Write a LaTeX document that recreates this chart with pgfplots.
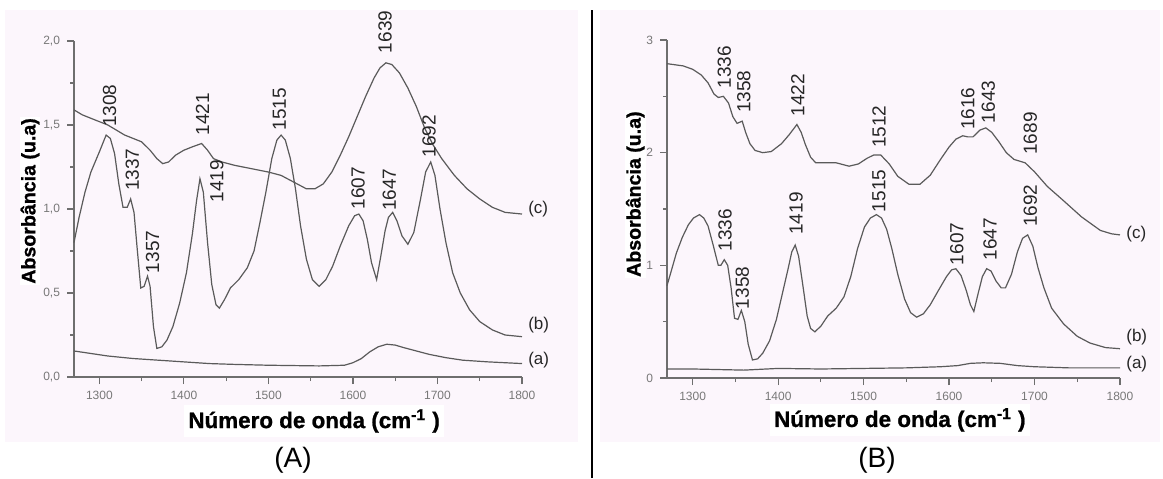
\documentclass[border=0pt]{standalone}
\usepackage{pgfplots}
\pgfplotsset{compat=1.18}
\usepackage{fontspec}
\setmainfont{Liberation Sans}
\newfontfamily\heavy[FakeBold=1]{Liberation Sans Bold}

\definecolor{bgpink}{RGB}{252,246,252}
\definecolor{curve}{RGB}{90,90,90}
\definecolor{axisgray}{RGB}{110,110,110}
\definecolor{ticklbl}{RGB}{120,120,120}

\tikzset{
  pk/.style={rotate=90, anchor=west, font=\fontsize{9.5}{11}\selectfont, inner sep=0.5pt, text=black!85},
  sl/.style={anchor=west, font=\fontsize{8.5}{10}\selectfont, inner sep=0pt, text=black!85},
  spec/.style={curve, line width=0.6pt, mark=none},
}

\pgfplotsset{
  spectrum/.style={
    width=224pt, height=168pt, scale only axis,
    anchor=south west,
    xmin=1270, xmax=1800, ymin=0,
    axis x line*=bottom, axis y line*=left,
    axis line style={-, axisgray, line width=0.7pt},
    xtick={1300,1400,1500,1600,1700,1800},
    minor x tick num=1, minor y tick num=1,
    tick align=outside,
    major tick length=3.5pt, minor tick length=2pt,
    every tick/.style={axisgray, line width=0.6pt},
    tick label style={font=\fontsize{6}{7}\selectfont, text=ticklbl},
    /pgf/number format/assume math mode=true,
    xticklabel style={/pgf/number format/1000 sep={}},
    xlabel style={font=\fontsize{11.2}{13}\heavy, fill=white, inner sep=2pt},
    ylabel style={font=\fontsize{9.8}{11}\heavy, fill=white, inner sep=0.5pt},
    clip=false,
  },
}

\begin{document}
\begin{tikzpicture}
\useasboundingbox (0,0) rectangle (581.5pt,239pt);
\fill[bgpink] (2.5pt,18pt) rectangle (289pt,234pt);
\fill[bgpink] (300pt,18pt) rectangle (580pt,234pt);
\draw[black, line width=1pt] (296pt,0pt) -- (296pt,234pt);

% (A)
\begin{axis}[spectrum,
  at={(37pt,50.5pt)},
  ymax=2,
  ytick={0,0.5,1,1.5,2},
  yticklabel style={/pgf/number format/.cd, fixed, fixed zerofill, precision=1, use comma},
  xlabel={Número de onda (cm\textsuperscript{-1} )},
  ylabel={Absorbância (u.a)},
  xlabel style={at={(axis description cs:0.536,-0.131)}, anchor=center},
  ylabel style={at={(axis description cs:-0.098,0.524)}, anchor=center},
]
% (c)
\addplot[spec] coordinates {
(1270,1.59)(1280,1.56)(1290,1.54)(1300,1.52)(1310,1.50)(1320,1.47)(1330,1.44)
(1340,1.42)(1350,1.40)(1360,1.35)(1368,1.30)(1375,1.27)(1382,1.28)(1390,1.32)
(1400,1.35)(1410,1.37)(1421,1.39)(1428,1.35)(1435,1.30)(1445,1.28)(1460,1.26)
(1480,1.24)(1500,1.22)(1515,1.20)(1530,1.16)(1545,1.12)(1555,1.12)(1565,1.15)
(1575,1.22)(1585,1.32)(1595,1.43)(1605,1.55)(1615,1.67)(1625,1.78)(1632,1.84)
(1639,1.87)(1646,1.86)(1655,1.81)(1665,1.72)(1675,1.61)(1685,1.48)(1695,1.38)
(1705,1.30)(1720,1.20)(1735,1.12)(1750,1.06)(1765,1.01)(1780,0.98)(1800,0.97)
};
% (b)
\addplot[spec] coordinates {
(1270,0.80)(1276,0.95)(1283,1.10)(1290,1.22)(1300,1.34)(1308,1.44)(1313,1.42)
(1318,1.33)(1323,1.15)(1328,1.01)(1333,1.01)(1337,1.06)(1341,0.98)(1345,0.75)
(1349,0.53)(1353,0.54)(1357,0.60)(1360,0.54)(1364,0.30)(1368,0.17)(1374,0.18)
(1380,0.22)(1387,0.30)(1395,0.44)(1403,0.62)(1410,0.85)(1415,1.05)(1419,1.18)
(1423,1.10)(1428,0.80)(1433,0.55)(1438,0.43)(1442,0.41)(1448,0.46)(1455,0.53)
(1465,0.58)(1475,0.65)(1483,0.75)(1490,0.92)(1497,1.10)(1504,1.30)(1510,1.41)
(1515,1.44)(1520,1.41)(1526,1.30)(1532,1.12)(1538,0.90)(1545,0.70)(1552,0.58)
(1560,0.54)(1568,0.58)(1576,0.66)(1585,0.78)(1595,0.90)(1602,0.96)(1607,0.97)
(1612,0.93)(1617,0.82)(1622,0.68)(1628,0.58)(1633,0.72)(1638,0.87)(1642,0.95)
(1647,0.98)(1652,0.93)(1658,0.84)(1665,0.79)(1672,0.86)(1680,1.06)(1686,1.22)
(1692,1.28)(1697,1.20)(1703,1.00)(1710,0.80)(1718,0.62)(1727,0.50)(1738,0.40)
(1750,0.33)(1765,0.28)(1780,0.25)(1800,0.24)
};
% (a)
\addplot[spec] coordinates {
(1270,0.155)(1290,0.14)(1310,0.125)(1340,0.11)(1370,0.10)(1400,0.09)(1430,0.08)
(1460,0.075)(1500,0.07)(1530,0.068)(1560,0.066)(1590,0.07)(1600,0.085)(1610,0.11)
(1620,0.15)(1630,0.18)(1640,0.195)(1650,0.19)(1660,0.175)(1675,0.155)(1690,0.135)
(1710,0.115)(1730,0.10)(1760,0.09)(1800,0.08)
};
\node[pk] at (axis cs:1312,1.48) {1308};
\node[pk] at (axis cs:1339,1.10) {1337};
\node[pk] at (axis cs:1363,0.61) {1357};
\node[pk] at (axis cs:1422,1.43) {1421};
\node[pk] at (axis cs:1439,1.03) {1419};
\node[pk] at (axis cs:1513,1.46) {1515};
\node[pk] at (axis cs:1606,0.99) {1607};
\node[pk] at (axis cs:1643,0.98) {1647};
\node[pk] at (axis cs:1638,1.92) {1639};
\node[pk] at (axis cs:1690,1.30) {1692};
\node[sl] at (axis cs:1807,1.00) {(c)};
\node[sl] at (axis cs:1807,0.31) {(b)};
\node[sl] at (axis cs:1807,0.10) {(a)};
\end{axis}
\node[font=\fontsize{14}{16}\selectfont] at (146.5pt,9pt) {(A)};

% (B)
\begin{axis}[spectrum,
  at={(333.5pt,50pt)},
  width=226.5pt, height=169pt,
  ymax=3,
  ytick={0,1,2,3},
  xlabel={Número de onda (cm\textsuperscript{-1} )},
  ylabel={Absorbância (u.a)},
  xlabel style={at={(axis description cs:0.514,-0.124)}, anchor=center},
  ylabel style={at={(axis description cs:-0.070,0.544)}, anchor=center},
]
% (c)
\addplot[spec] coordinates {
(1270,2.79)(1289,2.77)(1300,2.74)(1310,2.69)(1318,2.62)(1325,2.52)(1330,2.49)
(1336,2.50)(1342,2.44)(1347,2.32)(1352,2.26)(1358,2.28)(1362,2.18)(1367,2.08)
(1373,2.02)(1382,2.00)(1392,2.01)(1404,2.08)(1413,2.16)(1422,2.25)(1427,2.18)
(1432,2.07)(1438,1.96)(1444,1.91)(1457,1.91)(1468,1.91)(1483,1.88)(1494,1.90)
(1504,1.95)(1512,1.98)(1520,1.98)(1530,1.90)(1540,1.79)(1553,1.72)(1566,1.72)
(1578,1.80)(1590,1.94)(1600,2.05)(1608,2.12)(1616,2.15)(1622,2.14)(1628,2.14)
(1636,2.20)(1643,2.22)(1650,2.18)(1658,2.10)(1667,2.00)(1676,1.94)(1689,1.91)
(1700,1.83)(1715,1.70)(1733,1.58)(1755,1.43)(1777,1.31)(1790,1.28)(1800,1.27)
};
% (b)
\addplot[spec] coordinates {
(1270,0.82)(1275,0.95)(1281,1.11)(1288,1.25)(1295,1.36)(1301,1.42)(1308,1.45)
(1313,1.42)(1318,1.35)(1324,1.18)(1330,1.00)(1333,1.00)(1337,1.05)(1341,1.00)
(1345,0.80)(1349,0.53)(1353,0.52)(1357,0.60)(1361,0.50)(1365,0.30)(1370,0.16)
(1376,0.17)(1382,0.22)(1390,0.33)(1398,0.52)(1405,0.75)(1412,0.98)(1416,1.12)
(1420,1.18)(1424,1.08)(1429,0.82)(1434,0.55)(1438,0.44)(1443,0.41)(1450,0.46)
(1458,0.55)(1468,0.62)(1477,0.72)(1485,0.90)(1493,1.15)(1501,1.34)(1508,1.42)
(1515,1.45)(1521,1.42)(1527,1.32)(1533,1.15)(1540,0.92)(1548,0.70)(1555,0.58)
(1562,0.54)(1570,0.57)(1578,0.65)(1587,0.77)(1597,0.90)(1603,0.96)(1608,0.97)
(1614,0.91)(1620,0.78)(1625,0.65)(1629,0.59)(1634,0.75)(1639,0.90)(1644,0.97)
(1649,0.95)(1655,0.86)(1661,0.80)(1666,0.80)(1673,0.92)(1680,1.12)(1686,1.24)
(1692,1.27)(1698,1.17)(1704,0.98)(1711,0.80)(1720,0.62)(1734,0.48)(1750,0.37)
(1765,0.31)(1783,0.27)(1800,0.26)
};
% (a)
\addplot[spec] coordinates {
(1270,0.08)(1300,0.08)(1330,0.075)(1360,0.07)(1400,0.085)(1450,0.08)(1500,0.085)
(1550,0.09)(1590,0.10)(1610,0.11)(1625,0.13)(1640,0.135)(1660,0.13)(1680,0.11)
(1700,0.10)(1740,0.09)(1800,0.09)
};
\node[pk] at (axis cs:1337,2.56) {1336};
\node[pk] at (axis cs:1360,2.34) {1358};
\node[pk] at (axis cs:1423,2.31) {1422};
\node[pk] at (axis cs:1518,2.03) {1512};
\node[pk] at (axis cs:1622,2.19) {1616};
\node[pk] at (axis cs:1646,2.25) {1643};
\node[pk] at (axis cs:1695,1.97) {1689};
\node[pk] at (axis cs:1338,1.11) {1336};
\node[pk] at (axis cs:1358,0.60) {1358};
\node[pk] at (axis cs:1421,1.26) {1419};
\node[pk] at (axis cs:1518,1.46) {1515};
\node[pk] at (axis cs:1609,0.99) {1607};
\node[pk] at (axis cs:1648,1.03) {1647};
\node[pk] at (axis cs:1695,1.33) {1692};
\node[sl] at (axis cs:1807,1.28) {(c)};
\node[sl] at (axis cs:1807,0.36) {(b)};
\node[sl] at (axis cs:1807,0.12) {(a)};
\end{axis}
\node[font=\fontsize{14}{16}\selectfont] at (438.5pt,9pt) {(B)};
\end{tikzpicture}
\end{document}
